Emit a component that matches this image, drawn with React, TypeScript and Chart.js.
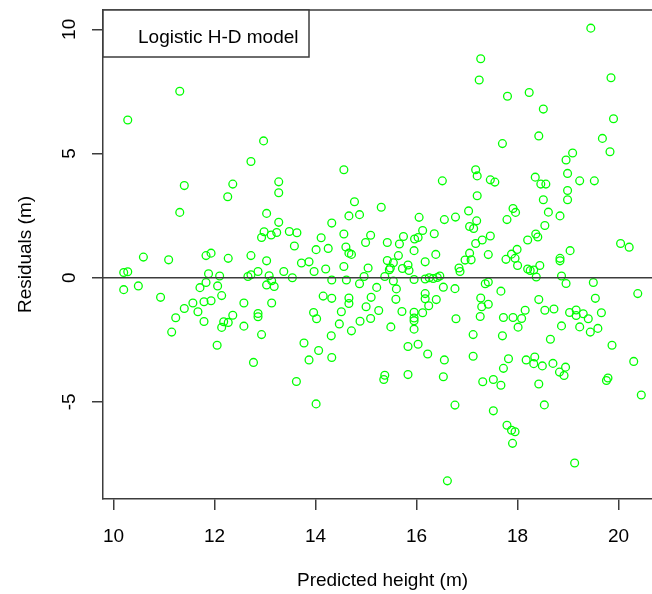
import React, { useEffect, useRef } from "react";
import { Chart, registerables } from "chart.js";

Chart.register(...registerables);

// ---- data ----
const predictedHeight = [
  10.28, 11.31, 12.97, 12.72, 11.40, 12.36, 12.26, 13.27, 13.27,
  19.45, 17.27, 17.24, 19.85, 17.80, 18.23, 18.51, 19.90, 17.70, 18.42, 19.68, 19.83, 19.09, 18.96,
  14.56, 16.51, 17.17, 17.20, 17.46, 17.55, 18.35, 18.46, 18.56, 18.99, 19.23, 19.52, 18.99, 17.20,
  18.51, 18.99, 14.77,
  11.31, 13.03, 13.27, 12.98, 12.93, 13.12, 13.23, 13.48, 13.63, 13.58, 14.11, 14.01, 14.25, 14.32,
  10.59, 11.09, 11.83, 11.93, 12.27, 12.72, 13.03, 13.72, 13.87, 10.20, 10.28, 11.88, 12.10, 12.66,
  12.72, 12.86, 13.08, 13.37, 13.54, 13.97, 14.20, 14.32, 10.20, 10.49, 10.93, 11.71, 11.83, 12.06,
  12.14, 13.03, 13.13, 13.18, 14.15, 14.32, 11.40, 11.57, 11.79, 11.93, 11.67, 12.58, 13.13, 11.23,
  11.79, 12.18, 12.27, 12.36, 12.14, 12.58, 12.86, 12.86, 13.96, 14.02, 11.15, 12.93, 14.31, 12.05,
  13.77, 14.06, 13.87, 14.32, 12.77, 13.62, 14.01,
  15.30, 14.66, 14.87, 16.05, 16.55, 16.77, 17.03, 17.05, 17.13, 17.19, 17.91, 17.96, 17.79, 18.61,
  18.84, 18.54, 14.56, 15.09, 14.99, 14.60, 14.66, 14.71, 15.42, 15.74, 15.66, 15.96, 16.03, 16.12,
  16.35, 15.95, 17.17, 17.30, 17.46, 17.05, 17.42, 17.08, 16.96, 18.20, 18.36, 18.40, 17.99, 17.88,
  17.95, 17.77, 18.00, 18.20, 18.25, 18.32, 18.44, 18.37, 19.04, 18.84, 18.84, 20.04, 20.21, 18.87,
  18.96, 19.50, 14.61, 14.96, 15.04, 14.87, 15.21, 14.56, 15.37, 15.42, 15.48, 15.54, 15.46, 15.54,
  15.64, 15.72, 15.83, 15.85, 15.95, 16.17, 16.38, 16.17, 16.25, 16.33, 16.41, 16.46, 16.53, 16.76,
  15.60, 16.84, 16.86, 17.36, 17.42, 17.67, 14.66, 14.66, 15.10, 15.59, 16.17, 16.17, 16.39, 16.24,
  15.00, 14.51, 15.25, 15.71, 15.95, 16.12, 15.95, 15.95, 15.95, 15.09, 14.88, 14.47, 14.71, 15.49,
  17.27, 17.42, 17.29, 17.26, 16.78, 17.12, 17.70, 17.72, 17.91, 18.08, 18.15, 18.01, 18.42, 18.54,
  18.72, 19.03, 19.16, 19.16, 19.30, 19.40, 19.66, 19.54, 18.87, 19.23, 19.44, 19.59, 18.65, 19.87,
  20.38, 20.30, 20.45, 15.83, 16.03, 16.22, 16.55, 17.12, 17.82, 17.72, 18.17, 18.34, 18.32, 18.49,
  18.70, 18.95, 18.83, 18.92, 15.37, 15.35, 15.83, 16.53, 17.31, 17.52, 17.67, 18.42, 19.76, 19.79,
  16.76, 17.52, 18.53, 17.79, 17.88, 17.95, 17.90, 19.13, 16.61,
];

const residuals = [
  6.35, 7.51, 5.51, 4.68, 3.71, 3.77, 3.26, 3.86, 3.42,
  10.05, 8.82, 7.96, 8.05, 7.31, 7.46, 6.79, 6.40, 5.40, 5.71, 5.61, 5.07, 5.02, 4.74,
  4.35, 3.90, 4.35, 4.10, 3.94, 3.85, 4.05, 3.77, 3.77, 4.20, 3.90, 3.90, 3.51, 3.30,
  3.14, 3.14, 3.06,
  2.63, 2.59, 2.23, 1.85, 1.62, 1.72, 1.82, 1.86, 1.81, 1.28, 1.61, 1.13, 1.18, 2.20,
  0.83, 0.72, 0.89, 0.99, 0.78, 0.89, 0.68, 0.59, 0.64, 0.21, 0.24, 0.16, 0.07, 0.05,
  0.12, 0.25, 0.08, 0.25, 0.00, 0.25, 0.35, -0.09, -0.48, -0.33, -0.79, -0.40, -0.19, -0.33,
  -0.72, -0.29, -0.12, -0.35, -0.74, -0.83, -1.24, -1.02, -0.97, -0.93, -1.37, -1.02, -1.02, -1.61,
  -1.76, -1.77, -1.80, -1.51, -2.00, -1.95, -1.44, -1.57, -1.40, -1.65, -2.19, -2.29, -2.34, -2.72,
  -2.63, -2.93, -3.31, -3.21, -3.41, -4.18, -5.08,
  2.84, 2.49, 2.54, 2.43, 2.34, 2.44, 2.69, 2.06, 1.98, 2.29, 2.79, 2.63, 2.34, 2.64,
  2.49, 2.10, 1.76, 1.71, 1.42, 1.24, 0.99, 0.94, 1.42, 1.66, 1.36, 1.56, 1.62, 1.90,
  1.77, 1.09, 1.38, 1.52, 1.68, 0.99, 0.93, 0.72, 0.71, 1.52, 1.76, 1.64, 1.14, 0.95,
  0.78, 0.74, 0.49, 0.35, 0.29, 0.31, 0.49, 0.03, 1.09, 0.78, 0.68, 1.38, 1.23, 0.07,
  -0.23, -0.19, -0.09, 0.05, 0.39, -0.24, -0.39, 0.45, 0.05, 0.69, 0.39, 0.60, 0.32, -0.13,
  0.89, 0.37, 0.51, 0.29, -0.07, 0.64, 0.94, -0.05, 0.00, -0.03, 0.01, 0.07, -0.38, -0.44,
  -0.45, 0.39, 0.25, -0.24, -0.17, -0.54, -0.82, -1.04, -0.79, -0.87, -0.64, -0.85, -0.88, -1.13,
  -1.17, -1.37, -1.32, -1.36, -1.39, -1.41, -1.62, -1.73, -2.07, -1.64, -1.75, -1.86, -2.14, -1.98,
  -0.82, -1.07, -1.17, -1.56, -1.65, -2.29, -2.34, -1.60, -1.60, -1.64, -1.31, -1.99, -0.88, -1.31,
  -1.26, -1.40, -1.30, -1.52, -1.45, -1.65, -1.41, -0.83, -1.94, -1.98, -2.19, -2.04, -2.48, -2.72,
  -0.64, -3.37, -4.72, -2.77, -2.68, -3.07, -3.31, -3.16, -3.26, -3.65, -3.31, -3.19, -3.46, -3.55,
  -3.45, -3.60, -3.80, -3.94, -3.93, -4.10, -3.90, -3.99, -4.19, -4.10, -4.33, -4.28, -4.14, -4.04,
  -5.13, -5.36, -5.12, -5.94, -6.14, -6.20, -6.67, -7.46, -8.18,
];

const xTickValues = [10, 12, 14, 16, 18, 20];
const yTickValues = [-5, 0, 5, 10];
const xRange = [9.79, 20.86];
const yRange = [-8.91, 10.78];
const referenceLevel = 0;

const xTitle = "Predicted height (m)";
const yTitle = "Residuals (m)";
const legendLabel = "Logistic H-D model";

const FONT = "'Liberation Sans', Arial, Helvetica, sans-serif";
const AXIS_COLOR = "#3c3c3c";
const POINT_COLOR = "#00ff00";

const framePlugin = {
  id: "rFrame",
  afterDraw(chart: any) {
    const { ctx, chartArea } = chart;
    const { left, top, right, bottom } = chartArea;
    ctx.save();
    ctx.strokeStyle = AXIS_COLOR;
    ctx.lineWidth = 1.5;
    ctx.beginPath();
    ctx.moveTo(left, top);
    ctx.lineTo(right, top);
    ctx.lineTo(right, bottom);
    ctx.stroke();
    // legend box (top-left, like R's legend("topleft"))
    const boxW = 206;
    const boxH = 47;
    ctx.fillStyle = "#ffffff";
    ctx.fillRect(left, top, boxW, boxH);
    ctx.strokeRect(left, top, boxW, boxH);
    ctx.fillStyle = "#000000";
    ctx.font = `19px ${FONT}`;
    ctx.textAlign = "left";
    ctx.textBaseline = "alphabetic";
    ctx.fillText(legendLabel, left + 35, top + 32.7);
    ctx.restore();
  },
};

export default function App() {
  const canvasRef = useRef<HTMLCanvasElement | null>(null);

  useEffect(() => {
    const canvas = canvasRef.current;
    if (!canvas) return;
    const points = predictedHeight.map((x, i) => ({ x, y: residuals[i] }));
    const tickFont = { family: FONT, size: 19 };

    const chart = new Chart(canvas, {
      type: "scatter",
      data: {
        datasets: [
          {
            type: "line",
            data: [
              { x: xRange[0], y: referenceLevel },
              { x: xRange[1], y: referenceLevel },
            ],
            borderColor: AXIS_COLOR,
            borderWidth: 1.5,
            pointRadius: 0,
            showLine: true,
            fill: false,
          } as any,
          {
            data: points,
            pointStyle: "circle",
            pointRadius: 3.9,
            pointHoverRadius: 3.9,
            borderWidth: 1.3,
            borderColor: POINT_COLOR,
            backgroundColor: "rgba(0,0,0,0)",
          },
        ],
      },
      options: {
        animation: false,
        responsive: false,
        maintainAspectRatio: false,
        events: [],
        layout: {
          autoPadding: false,
          padding: { top: 10, left: 0, right: 0, bottom: 0 },
        },
        plugins: {
          legend: { display: false },
          tooltip: { enabled: false },
        },
        scales: {
          x: {
            type: "linear",
            position: "bottom",
            min: xRange[0],
            max: xRange[1],
            afterBuildTicks: (s: any) => {
              s.ticks = xTickValues.map((v) => ({ value: v }));
            },
            afterFit: (s: any) => {
              s.height = 95;
              s.paddingLeft = 0;
              s.paddingRight = 0;
            },
            ticks: {
              color: "#000",
              font: tickFont,
              padding: 15.2,
              maxRotation: 0,
              autoSkip: false,
            },
            grid: {
              drawOnChartArea: false,
              drawTicks: true,
              tickLength: 11,
              color: AXIS_COLOR,
              lineWidth: 1.5,
            },
            border: { display: true, color: AXIS_COLOR, width: 1.5 },
            title: {
              display: true,
              text: xTitle,
              color: "#000",
              font: tickFont,
              padding: { top: 0, bottom: 1.7 },
            },
          },
          y: {
            type: "linear",
            position: "left",
            min: yRange[0],
            max: yRange[1],
            afterBuildTicks: (s: any) => {
              s.ticks = yTickValues.map((v) => ({ value: v }));
            },
            afterFit: (s: any) => {
              s.width = 103;
              s.paddingTop = 0;
              s.paddingBottom = 0;
            },
            ticks: {
              color: "#000",
              font: tickFont,
              padding: 12,
              minRotation: 90,
              maxRotation: 90,
              crossAlign: "center",
              autoSkip: false,
            },
            grid: {
              drawOnChartArea: false,
              drawTicks: true,
              tickLength: 11,
              color: AXIS_COLOR,
              lineWidth: 1.5,
            },
            border: { display: true, color: AXIS_COLOR, width: 1.5 },
            title: {
              display: true,
              text: yTitle,
              color: "#000",
              font: tickFont,
              padding: { top: 14, bottom: 0 },
            },
          },
        },
      } as any,
      plugins: [framePlugin],
    });

    return () => {
      chart.destroy();
    };
  }, []);

  return (
    <div
      style={{
        position: "fixed",
        left: 0,
        top: 0,
        width: 652,
        height: 594,
        overflow: "hidden",
        background: "#fff",
      }}
    >
      <canvas
        ref={canvasRef}
        width={662}
        height={594}
        style={{ display: "block", width: 662, height: 594 }}
      />
    </div>
  );
}
